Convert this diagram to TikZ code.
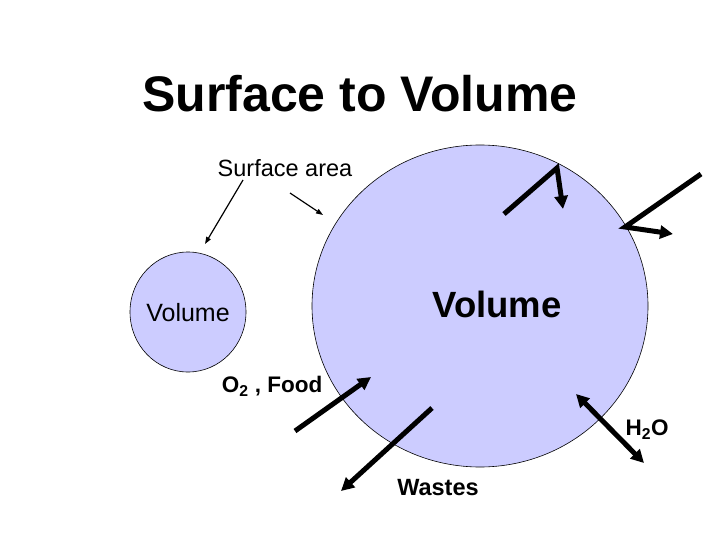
\documentclass[tikz,border=0pt]{standalone}
\usepackage{fontspec}
\setmainfont{Liberation Sans}
\usetikzlibrary{arrows.meta, positioning, shapes.geometric}
\definecolor{CellColor}{RGB}{204, 204, 255}

\begin{document}
\begin{tikzpicture}[
    x=1bp, y=-1bp, % pixel-like coordinates, origin top left
    cell/.style={ellipse, draw=black, line width=0.6bp, fill=CellColor, inner sep=0pt},
    flow/.style={line width=5bp, -{Triangle[length=13bp, width=13bp]}},
    pointer/.style={line width=1.2bp, -{Triangle[length=7bp, width=5bp]}},
    txt/.style={inner sep=0pt, font=\fontsize{23.5bp}{27bp}\selectfont},
    boldtxt/.style={inner sep=0pt, font=\bfseries\fontsize{22.5bp}{26bp}\selectfont}
]
\useasboundingbox (0,0) rectangle (720,540);

% --- Cells ---
\node[cell, minimum width=336bp, minimum height=322bp] (bigcell) at (480,306) {};
\node[cell, minimum width=116bp, minimum height=120bp] (smallcell) at (188,312) {};

% --- Texts ---
\node[inner sep=0pt, font=\bfseries\fontsize{50bp}{56bp}\selectfont] (title) at (360,94) {Surface to Volume};
\node[txt] (surface) at (285,168) {Surface area};
\node[txt, font=\fontsize{25bp}{29bp}\selectfont] (smallvol) at (188,313) {Volume};
\node[inner sep=0pt, font=\bfseries\fontsize{36.5bp}{42bp}\selectfont] (bigvol) at (497,304) {Volume};
\node[boldtxt] (food) at (272,386) {O\textsubscript{2} , Food};
\node[boldtxt] (water) at (647,430) {H\textsubscript{2}O};
\node[boldtxt, font=\bfseries\fontsize{23.5bp}{27bp}\selectfont] (wastes) at (438,488) {Wastes};

% --- Pointers from "Surface area" ---
\coordinate (sa1) at (243,180);
\coordinate (sa1end) at (205,244);
\coordinate (sa2) at (290,193);
\coordinate (sa2end) at (323,215);
\draw[pointer] (sa1) -- (sa1end);
\draw[pointer] (sa2) -- (sa2end);

% --- Exchange arrows ---
\coordinate (in1) at (504,214);
\coordinate (bend1) at (557,168);
\coordinate (tip1) at (563,209);
\draw[flow] (in1) -- (bend1) -- (tip1);

\coordinate (in2) at (701,174);
\coordinate (bend2) at (625,227);
\coordinate (tip2) at (673,234);
\draw[flow] (in2) -- (bend2) -- (tip2);

\coordinate (foodstart) at (295,431);
\coordinate (foodend) at (371,377);
\draw[flow] (foodstart) -- (foodend);

\coordinate (wastestart) at (432,408);
\coordinate (wasteend) at (341,491);
\draw[flow] (wastestart) -- (wasteend);

\coordinate (waterin) at (576,394);
\coordinate (waterout) at (644,463);
\draw[flow, {Triangle[length=13bp, width=13bp]}-{Triangle[length=13bp, width=13bp]}] (waterin) -- (waterout);

\end{tikzpicture}
\end{document}
